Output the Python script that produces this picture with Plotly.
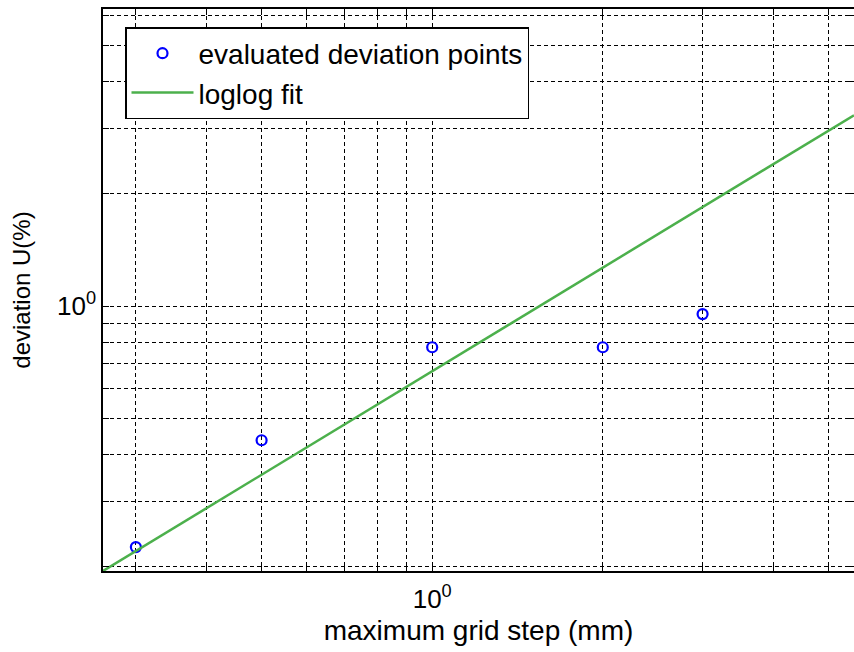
import plotly.graph_objects as go
import math

# data
grid_step = [0.3, 0.5, 1.0, 2.0, 3.0]
deviation = [0.226, 0.437, 0.776, 0.776, 0.952]

fit_x = [0.2625, 5.55]
fit_y = [0.195, 3.25]

x_ticks = [0.3, 0.4, 0.5, 0.6, 0.7, 0.8, 0.9, 1, 2, 3, 4, 5]
y_ticks = [0.2, 0.3, 0.4, 0.5, 0.6, 0.7, 0.8, 0.9, 1, 2, 3, 4, 5, 6]
x_ticktext = ["10<sup>0</sup>" if v == 1 else "" for v in x_ticks]
y_ticktext = ["10<sup>0</sup>" if v == 1 else "" for v in y_ticks]

FONT = "Liberation Sans, Arial, sans-serif"

fig = go.Figure()
fig.add_trace(go.Scatter(
    x=grid_step, y=deviation, mode="markers",
    name="evaluated deviation points",
    marker=dict(symbol="circle-open", size=10, color="#0000ff", line=dict(width=2.2, color="#0000ff")),
))
fig.add_trace(go.Scatter(
    x=fit_x, y=fit_y, mode="lines", name="loglog fit",
    line=dict(color="#4cb04c", width=2.5),
))

axis_common = dict(
    type="log", automargin=False,
    showline=True, linecolor="black", linewidth=1.5, mirror="ticks",
    ticks="inside", ticklen=6, tickcolor="black", tickwidth=1,
    showgrid=True, gridcolor="black", gridwidth=1, griddash="4px,3px",
    zeroline=False,
    tickfont=dict(family=FONT, size=26, color="black"),
)

fig.update_xaxes(
    **axis_common,
    range=[math.log10(fit_x[0]), math.log10(fit_x[1])],
    tickmode="array", tickvals=x_ticks, ticktext=x_ticktext,
    ticklabelstandoff=4,
    title_text="maximum grid step (mm)", title_standoff=7,
    title_font=dict(family=FONT, size=28, color="black"),
)
fig.update_yaxes(
    **axis_common,
    range=[math.log10(0.195), math.log10(6.26)],
    tickmode="array", tickvals=y_ticks, ticktext=y_ticktext,
    title_text="deviation U(%)", title_standoff=20,
    title_font=dict(family=FONT, size=24, color="black"),
)

fig.update_layout(
    width=854, height=652,
    margin=dict(l=103, r=0, t=9, b=81),
    plot_bgcolor="white", paper_bgcolor="white",
    font=dict(family=FONT, size=24, color="black"),
    legend=dict(
        x=(125 - 103) / 751, y=1 - (27 - 9) / 562,
        xanchor="left", yanchor="top",
        bgcolor="white", bordercolor="black", borderwidth=1.5,
        itemwidth=62,
        font=dict(family=FONT, size=28, color="black"),
    ),
    showlegend=True,
)

# remove the default page margin so the figure fills the window exactly
fig.write_html(
    "out.html",
    config={"displayModeBar": False},
    post_script="document.body.style.margin='0';"
                "document.body.style.overflow='hidden';"
                "document.documentElement.style.overflow='hidden';",
)
